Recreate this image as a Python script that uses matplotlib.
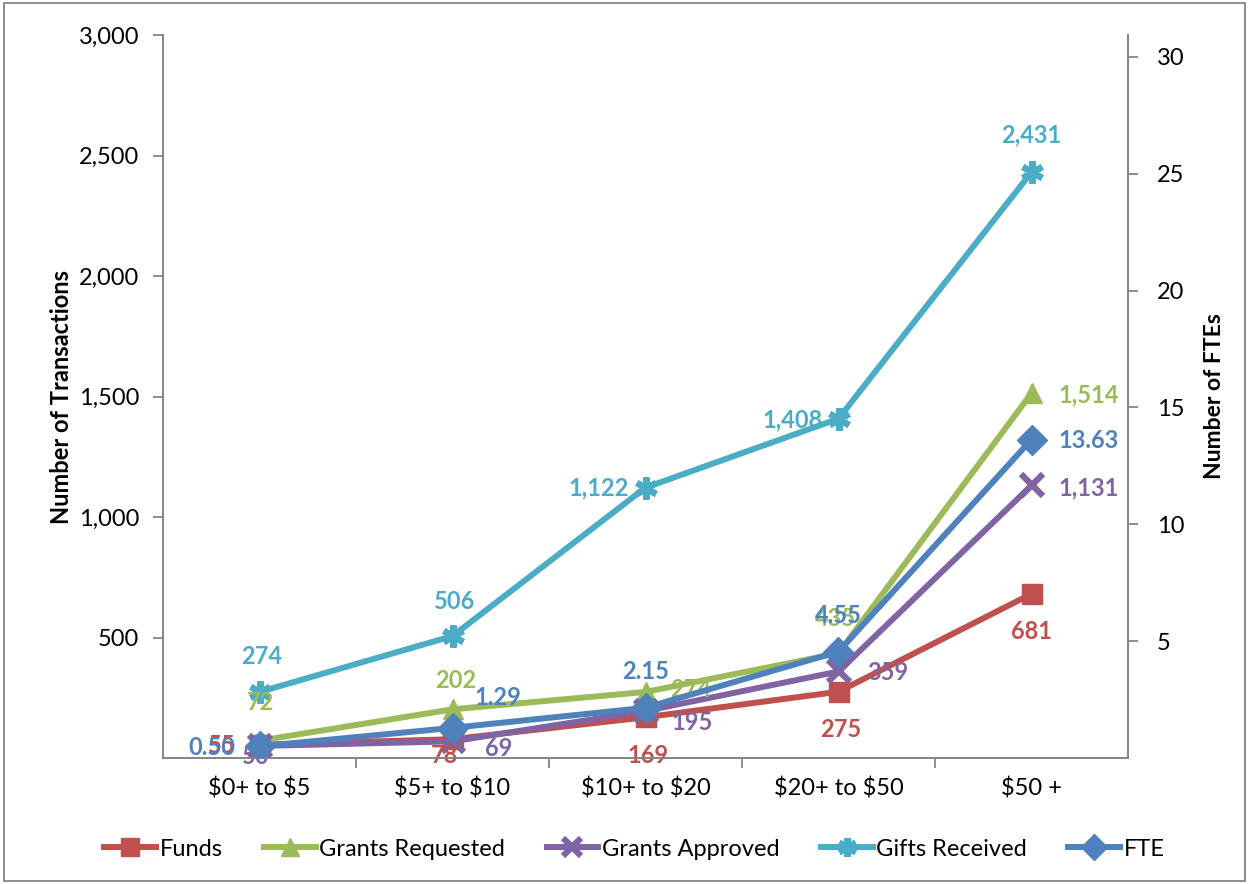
import matplotlib.pyplot as plt
from matplotlib.patches import Rectangle

plt.rcParams['font.family'] = ['Lato', 'DejaVu Sans']
plt.rcParams['text.parse_math'] = False

# data
categories = ['$0+ to $5', '$5+ to $10', '$10+ to $20', '$20+ to $50', '$50 +']
funds = [55, 78, 169, 275, 681]
grants_requested = [72, 202, 274, 435, 1514]
grants_approved = [50, 69, 195, 359, 1131]
gifts_received = [274, 506, 1122, 1408, 2431]
fte = [0.50, 1.29, 2.15, 4.55, 13.63]

left_ticks = [500, 1000, 1500, 2000, 2500, 3000]
right_ticks = [5, 10, 15, 20, 25, 30]

# styles
colors = {'Funds': '#C0504D', 'Grants Requested': '#9BBB59', 'Grants Approved': '#8064A2',
          'Gifts Received': '#4BACC6', 'FTE': '#4F81BD'}
markers = {'Funds': 's', 'Grants Requested': '^', 'Grants Approved': 'x',
           'Gifts Received': (6, 2, 0), 'FTE': 'D'}
# label offsets in pixels (dx, dy) from each point, as placed in the original
label_off = {
    'Funds': [(-38, -1), (-8, -16), (3, -38), (2, -38), (0, -38)],
    'Grants Requested': [(1, 38), (3, 29), (45, 2), (-3, 35), (57, -2)],
    'Grants Approved': [(-4, -11), (46, -7), (47, -11), (49, -1), (57, -2)],
    'Gifts Received': [(2, 35), (2, 35), (-47, 0), (-46, -1), (0, 37)],
    'FTE': [(-48, -1), (45, 30), (0, 36), (0, 36), (57, -1)],
}
FS = 17

fig = plt.figure(figsize=(12.49, 8.84), dpi=100)
ax = fig.add_axes([163 / 1249, 1 - 758 / 884, (1128 - 163) / 1249, (758 - 35) / 884])
ax2 = ax.twinx()

x = list(range(len(categories)))
handles = []


def draw(axis, name, vals, fmt):
    c = colors[name]
    m = markers[name]
    thin = m in ('x', (6, 2, 0))
    h, = axis.plot(x, vals, color=c, lw=4.3, marker=m, ms=16 if thin else 15, mec=c, mfc=c,
                   mew=4.5 if thin else 1, label=name, solid_joinstyle='round', zorder=3)
    handles.append(h)
    for xi, v, off in zip(x, vals, label_off[name]):
        axis.annotate(fmt.format(v), (xi, v), xytext=off, textcoords='offset pixels',
                      ha='center', va='center', color=c, fontsize=FS, fontweight='bold',
                      zorder=5, annotation_clip=False)


draw(ax, 'Funds', funds, '{:,.0f}')
draw(ax, 'Grants Requested', grants_requested, '{:,.0f}')
draw(ax, 'Grants Approved', grants_approved, '{:,.0f}')
draw(ax, 'Gifts Received', gifts_received, '{:,.0f}')
draw(ax2, 'FTE', fte, '{:.2f}')

ax.set_xlim(-0.5, len(categories) - 0.5)
ax.set_ylim(0, 3000)
ax2.set_ylim(0, 30 * 723 / 701)

ax.set_xticks(x)
ax.set_xticklabels(categories, fontsize=FS)
ax.set_xticks([i + 0.5 for i in x[:-1]], minor=True)
ax.tick_params(axis='x', which='major', length=0, pad=14)
ax.tick_params(axis='x', which='minor', length=7, color='#868686', width=1.3)

ax.set_yticks(left_ticks)
ax.set_yticklabels([f'{t:,}' for t in left_ticks], fontsize=FS)
ax.tick_params(axis='y', length=7, color='#868686', width=1.3, pad=10)
ax2.set_yticks(right_ticks)
ax2.set_yticklabels([str(t) for t in right_ticks], fontsize=FS)
ax2.tick_params(axis='y', length=7, color='#868686', width=1.3, pad=14)

for a in (ax, ax2):
    a.spines['top'].set_visible(False)
    for s in ('left', 'right', 'bottom'):
        a.spines[s].set_color('#868686')
        a.spines[s].set_linewidth(1.3)
ax.patch.set_visible(False)

ax.set_ylabel('Number of Transactions', fontsize=FS, fontweight='bold', labelpad=4)
ax2.set_ylabel('Number of FTEs', fontsize=16.5, fontweight='bold', labelpad=14)

fig.legend(handles=handles, loc='center', bbox_to_anchor=(0.5 + 10 / 1249, 1 - 849 / 884),
           ncol=5, frameon=False, fontsize=FS, handlelength=2.2, columnspacing=1.75,
           handletextpad=0.15, markerscale=0.85)

fig.patches.append(Rectangle((0.003, 0.003), 0.994, 0.994, transform=fig.transFigure,
                             fill=False, edgecolor='#868686', lw=1.3))

fig.savefig('out.png', dpi=100)
